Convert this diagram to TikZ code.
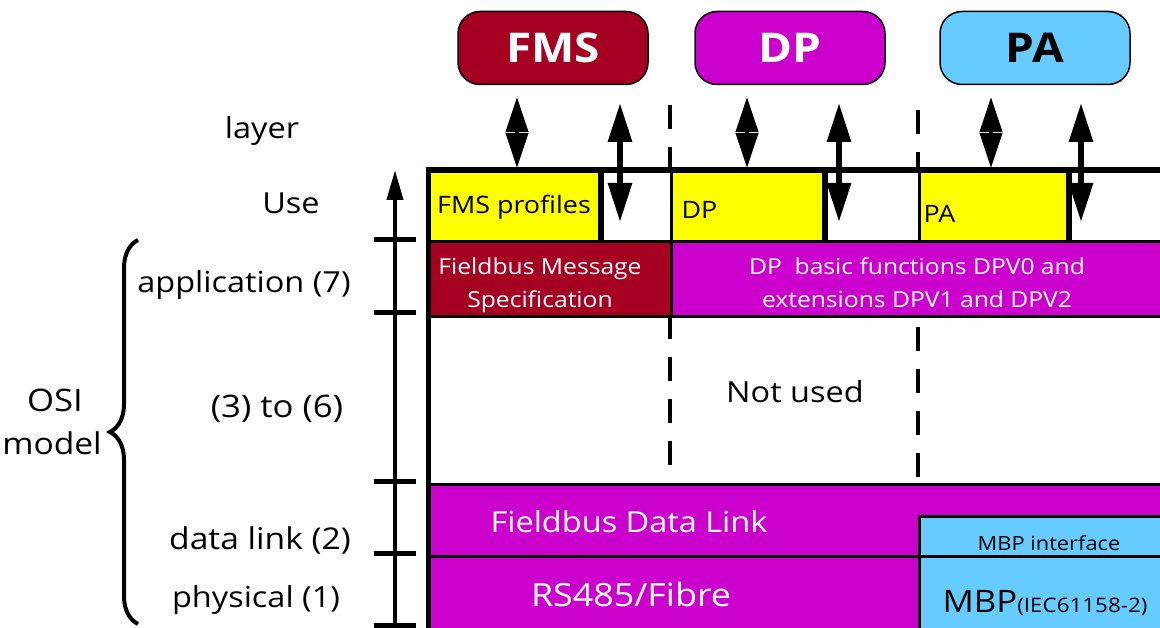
\documentclass[tikz,border=0pt]{standalone}
\usepackage{fontspec}
\setmainfont{Open Sans}[FakeStretch=1.12]
\usepackage{xcolor}
\usetikzlibrary{positioning,arrows.meta,decorations.pathreplacing}
\definecolor{fmsred}{HTML}{A50021}
\definecolor{dpmag}{HTML}{CC00CC}
\definecolor{pablue}{HTML}{66CCFF}
\definecolor{profyel}{HTML}{FFFF00}

\begin{document}
\begin{tikzpicture}[x=1pt,y=-1pt,
    cell/.style={draw,line width=3pt,anchor=north west,inner sep=0pt},
    proto/.style={draw,line width=1.5pt,rounded corners=22pt,minimum width=190pt,minimum height=73pt,font=\fontsize{41}{41}\selectfont\bfseries},
    lbl/.style={font=\fontsize{29}{34}\selectfont},
    txt/.style={font=\fontsize{22}{33}\selectfont,align=center},
    big/.style={font=\fontsize{29}{34}\selectfont},
    dbl/.style={{Triangle[length=35pt,width=22pt]}-{Triangle[length=35pt,width=22pt]},line width=4pt},
    dbllong/.style={{Triangle[length=39pt,width=23pt]}-{Triangle[length=39pt,width=23pt]},line width=6pt},
    sep/.style={line width=4pt,dash pattern=on 24pt off 18pt}]
    \useasboundingbox (0,0) rectangle (1160,628);

    \node (fms) [proto,fill=fmsred,text=white] at (553,48) {FMS};
    \node (dp)  [proto,fill=dpmag,text=white]  at (790,48) {DP};
    \node (pa)  [proto,fill=pablue]            at (1035,48) {PA};

    \draw[sep] (670,105) -- (670,170) (670,315) -- (670,470);
    \draw[sep] (918,110) -- (918,170) (918,327) -- (918,480);

    \node (fmsprof) [cell,fill=profyel,minimum width=170pt,minimum height=70pt] at (428,170) {};
    \node (gap1)    [cell,fill=white,minimum width=72pt,minimum height=70pt,right=0pt of fmsprof.north east,anchor=north west] {};
    \node (dpprof)  [cell,fill=profyel,minimum width=152pt,minimum height=70pt] at (670,170) {};
    \node (gap2)    [cell,fill=white,minimum width=96pt,minimum height=70pt,right=0pt of dpprof.north east,anchor=north west] {};
    \node (paprof)  [cell,fill=profyel,minimum width=148pt,minimum height=70pt] at (918,170) {};
    \node (gap3)    [cell,fill=white,minimum width=110pt,minimum height=70pt,right=0pt of paprof.north east,anchor=north west] {};

    \node (fmsapp) [cell,fill=fmsred,minimum width=242pt,minimum height=75pt] at (428,240) {};
    \node (dpapp)  [cell,fill=dpmag,minimum width=510pt,minimum height=75pt] at (670,240) {};

    \node (dlink)  [cell,fill=dpmag,minimum width=750pt,minimum height=72pt] at (428,483) {};
    \node (mbpif)  [cell,fill=pablue,minimum width=260pt,minimum height=40pt] at (918,515) {};
    \node (phys)   [cell,fill=dpmag,minimum width=490pt,minimum height=76pt] at (428,555) {};
    \node (mbp)    [cell,fill=pablue,minimum width=260pt,minimum height=76pt] at (918,555) {};

    \draw[line width=5pt] (428,630) -- (428,170) -- (1170,170);

    \node (fmsproft) [txt,font=\fontsize{24}{30}\selectfont] at (514,207) {FMS profiles};
    \node (dpproft)  [txt,font=\fontsize{24}{30}\selectfont,anchor=west] at (678,210) {DP};
    \node (paproft)  [txt,font=\fontsize{24}{30}\selectfont,anchor=west] at (920,214) {PA};
    \node (fmsappt)  [txt,text=white] at (540,285) {Fieldbus Message\\Specification};
    \node (dpappt)   [txt,text=white] at (917,283) {DP~~basic functions DPV0 and\\extensions DPV1 and DPV2};
    \node (notused)  [big] at (795,392) {Not used};
    \node (dlinkt)   [big,text=white] at (629,522) {Fieldbus Data Link};
    \node (mbpift)   [font=\fontsize{19.5}{22}\selectfont] at (1049,543) {MBP interface};
    \node (physt)    [big,font=\fontsize{32}{36}\selectfont,text=white] at (631,594) {RS485/Fibre};
    \node (mbpt)     [big,font=\fontsize{31}{36}\selectfont] at (1045,603) {MBP{\fontsize{20}{24}\selectfont(IEC61158-2)}};

    \coordinate (f1t) at (517,97);  \coordinate (f1b) at (517,168);
    \coordinate (f2t) at (620,103); \coordinate (f2b) at (620,222);
    \coordinate (d1t) at (747,97);  \coordinate (d1b) at (747,168);
    \coordinate (d2t) at (839,103); \coordinate (d2b) at (839,222);
    \coordinate (p1t) at (991,97);  \coordinate (p1b) at (991,168);
    \coordinate (p2t) at (1081,103); \coordinate (p2b) at (1081,222);
    \path[dbl]
    (f1t) edge (f1b)
    (d1t) edge (d1b)
    (p1t) edge (p1b);
    \path[dbllong]
    (f2t) edge (f2b)
    (d2t) edge (d2b)
    (p2t) edge (p2b);

    \node (layer) [lbl] at (262,131) {layer};
    \node (use)   [lbl] at (291,203) {Use};
    \node (app)   [lbl] at (244,285) {application (7)};
    \node (mid)   [lbl,font=\fontsize{31}{34}\selectfont] at (277,409) {(3) to (6)};
    \node (dl)    [lbl,font=\fontsize{30}{34}\selectfont] at (260,540) {data link (2)};
    \node (ph)    [lbl] at (256,600) {physical (1)};
    \node (osi)   [lbl,font=\fontsize{31}{34}\selectfont] at (55,400) {OSI};
    \node (model) [lbl,font=\fontsize{30}{34}\selectfont] at (52,443) {model};

    \coordinate (scbot) at (395,628);
    \coordinate (sctop) at (395,170);
    \draw[-{Triangle[length=30pt,width=16pt]},line width=4pt] (scbot) -- (sctop);
    \draw[line width=5pt] (374,240) -- (416,240) (374,313) -- (416,313)
        (374,481) -- (416,481) (374,553) -- (416,553) (374,625) -- (416,625);

    \draw[line width=4pt,decorate,decoration={brace,amplitude=28pt,aspect=0.5}] (138,624) -- (138,240);
\end{tikzpicture}
\end{document}
